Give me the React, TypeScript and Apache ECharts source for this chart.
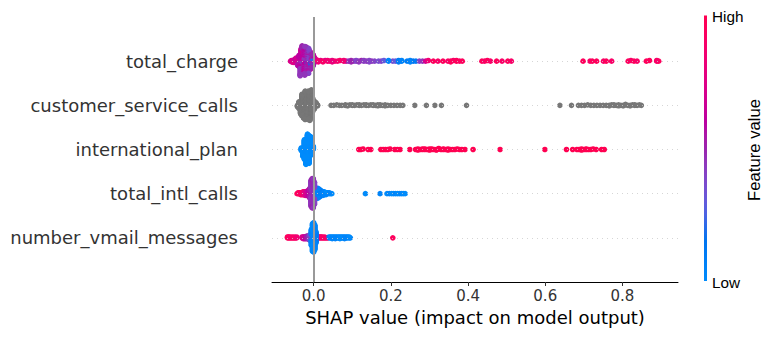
import React, { useEffect, useRef } from "react";
import * as echarts from "echarts";

// features, bottom row first (row index = position on the y axis)
const features = [
  "number_vmail_messages",
  "total_intl_calls",
  "international_plan",
  "customer_service_calls",
  "total_charge",
];
const xTicks = [0, 0.2, 0.4, 0.6, 0.8];

// [SHAP value, feature value (0 = low, 1 = high), number of samples]
const totalCharge: number[][] = [
  [-0.060, 0.75, 1], [-0.057, 0.7, 2], [-0.053, 0.75, 3], [-0.049, 0.65, 3],
  [-0.045, 0.7, 4], [-0.041, 0.55, 6], [-0.038, 0.6, 8],
  [-0.035, 0.45, 14], [-0.033, 0.65, 10], [-0.030, 0.5, 14], [-0.028, 0.4, 10],
  [-0.025, 0.6, 12], [-0.023, 0.45, 16], [-0.020, 0.1, 4], [-0.019, 0.5, 14],
  [-0.016, 0.55, 12], [-0.013, 0.4, 14], [-0.011, 0.15, 6], [-0.009, 0.65, 8],
  [-0.006, 0.5, 10], [-0.003, 0.2, 5], [-0.001, 0.6, 6],
  [0.002, 0.7, 3], [0.005, 0.45, 2], [0.008, 0.85, 2],
  [0.012, 0.85, 2], [0.018, 0.8, 1], [0.024, 0.9, 2], [0.030, 0.75, 1], [0.036, 0.85, 2],
  [0.042, 0.9, 1], [0.048, 0.8, 2], [0.055, 0.9, 1], [0.062, 0.85, 1], [0.068, 0.9, 1],
  [0.078, 0.85, 2], [0.084, 0.7, 1], [0.090, 0.45, 1], [0.097, 0.5, 2], [0.104, 0.45, 1],
  [0.110, 0.4, 2], [0.117, 0.45, 2], [0.124, 0.5, 1], [0.130, 0.42, 2], [0.137, 0.45, 1],
  [0.144, 0.4, 2], [0.151, 0.45, 1], [0.158, 0.4, 1],
  [0.168, 0.35, 1], [0.175, 0.4, 1], [0.182, 0.3, 1], [0.194, 0.05, 2], [0.205, 0.35, 1],
  [0.212, 0.3, 1], [0.220, 0.1, 2], [0.228, 0.05, 2],
  [0.242, 0.1, 1], [0.250, 0.05, 2], [0.258, 0.15, 1], [0.265, 0.1, 1], [0.274, 0.4, 1],
  [0.282, 0.45, 1], [0.290, 0.7, 1], [0.297, 0.85, 1],
  [0.310, 0.95, 1], [0.322, 0.9, 1], [0.335, 0.95, 1], [0.348, 0.9, 1], [0.355, 0.95, 2],
  [0.362, 0.9, 1], [0.370, 0.95, 2], [0.378, 0.9, 1], [0.385, 0.95, 1],
  [0.436, 0.95, 1], [0.443, 0.9, 1], [0.450, 0.95, 1], [0.458, 0.9, 1], [0.474, 0.95, 1],
  [0.488, 0.9, 1], [0.503, 0.95, 1], [0.512, 0.9, 1],
  [0.698, 0.95, 1], [0.716, 0.9, 1], [0.722, 0.95, 1], [0.733, 0.95, 1], [0.751, 0.9, 1],
  [0.758, 0.95, 1], [0.772, 0.9, 1],
  [0.815, 0.95, 1], [0.822, 0.9, 1], [0.830, 0.95, 1], [0.838, 0.9, 1], [0.862, 0.95, 1],
  [0.870, 0.95, 1], [0.889, 0.9, 2], [0.894, 0.95, 1],
];

// [SHAP value, number of samples] (feature value missing -> grey)
const customerServiceCalls: number[][] = [
  [-0.042, 4], [-0.038, 12], [-0.034, 20], [-0.030, 30], [-0.026, 30], [-0.022, 35],
  [-0.018, 30], [-0.014, 35], [-0.010, 30], [-0.006, 30], [-0.002, 10], [0.002, 12],
  [0.006, 6], [0.010, 3],
  [0.045, 1], [0.052, 1], [0.060, 1], [0.067, 1], [0.073, 1],
  [0.082, 2], [0.088, 2], [0.094, 1], [0.100, 2], [0.106, 1], [0.112, 1], [0.118, 2],
  [0.124, 1], [0.130, 1], [0.136, 2], [0.142, 1], [0.148, 1], [0.154, 2], [0.160, 1],
  [0.166, 2], [0.172, 2], [0.178, 1], [0.185, 2], [0.192, 1], [0.200, 1], [0.208, 1],
  [0.216, 1], [0.224, 1], [0.231, 1],
  [0.262, 1], [0.292, 1], [0.314, 1], [0.331, 1], [0.396, 1],
  [0.638, 1], [0.668, 1], [0.686, 1], [0.694, 1], [0.702, 1], [0.710, 1], [0.718, 1],
  [0.726, 1], [0.734, 1], [0.742, 1], [0.750, 1], [0.758, 1], [0.766, 2], [0.772, 1],
  [0.778, 2], [0.784, 1], [0.790, 2], [0.796, 1], [0.802, 2], [0.808, 2], [0.814, 1],
  [0.820, 2], [0.826, 1], [0.832, 2], [0.838, 1], [0.844, 1], [0.849, 1],
];

const internationalPlan: number[][] = [
  [-0.032, 0, 6], [-0.028, 0, 14], [-0.024, 0, 25], [-0.020, 0, 30], [-0.016, 0, 30],
  [-0.012, 0, 30], [-0.008, 0, 25], [-0.004, 0, 15], [-0.001, 0, 6],
  [0.117, 1, 1], [0.122, 1, 1], [0.128, 1, 1], [0.141, 1, 1], [0.148, 1, 1],
  [0.174, 1, 1], [0.180, 1, 1], [0.186, 1, 1], [0.192, 1, 1], [0.198, 1, 1], [0.210, 1, 1],
  [0.217, 1, 1], [0.224, 1, 1], [0.249, 1, 1],
  [0.264, 1, 1], [0.270, 1, 2], [0.276, 1, 1], [0.282, 1, 2], [0.288, 1, 2], [0.294, 1, 1],
  [0.300, 1, 2], [0.306, 1, 2], [0.312, 1, 1], [0.318, 1, 2], [0.324, 1, 2], [0.330, 1, 1],
  [0.336, 1, 2], [0.342, 1, 1], [0.348, 1, 2], [0.354, 1, 1], [0.360, 1, 1], [0.366, 1, 1],
  [0.372, 1, 1], [0.378, 1, 1], [0.384, 1, 1],
  [0.392, 1, 1], [0.413, 1, 1], [0.483, 1, 1], [0.599, 1, 1],
  [0.655, 1, 1], [0.671, 1, 1], [0.682, 1, 1], [0.688, 1, 1], [0.694, 1, 2], [0.700, 1, 1],
  [0.706, 1, 2], [0.712, 1, 1], [0.718, 1, 1], [0.724, 1, 1], [0.732, 1, 1], [0.746, 1, 1],
  [0.753, 1, 1],
];

const totalIntlCalls: number[][] = [
  [-0.043, 0.95, 1], [-0.040, 0.95, 2], [-0.037, 0.9, 2], [-0.034, 0.95, 3], [-0.031, 0.85, 3],
  [-0.028, 0.9, 4], [-0.025, 0.8, 4], [-0.022, 0.75, 5], [-0.019, 0.7, 5], [-0.016, 0.65, 6],
  [-0.013, 0.6, 8], [-0.010, 0.55, 12],
  [-0.007, 0.45, 30], [-0.004, 0.5, 34], [-0.001, 0.45, 34], [0.002, 0.4, 26],
  [0.005, 0.1, 10], [0.008, 0.05, 12], [0.011, 0.05, 12], [0.014, 0.1, 10], [0.017, 0.05, 8],
  [0.020, 0.05, 6], [0.024, 0.05, 5], [0.028, 0.0, 4], [0.032, 0.05, 3], [0.036, 0.0, 2],
  [0.040, 0.05, 2], [0.044, 0.0, 1], [0.047, 0.0, 1],
  [0.134, 0.0, 1], [0.172, 0.05, 1], [0.190, 0.0, 1], [0.196, 0.05, 1], [0.202, 0.0, 1],
  [0.207, 0.0, 1], [0.212, 0.05, 1], [0.217, 0.0, 1], [0.222, 0.0, 1], [0.227, 0.05, 1],
  [0.232, 0.0, 1], [0.237, 0.0, 1],
];

const numberVmailMessages: number[][] = [
  [-0.068, 0.95, 2], [-0.065, 0.95, 2], [-0.062, 0.9, 2], [-0.059, 0.95, 1], [-0.056, 0.9, 2],
  [-0.053, 0.95, 1], [-0.050, 0.9, 2], [-0.047, 0.95, 1], [-0.044, 0.85, 2],
  [-0.030, 0.75, 2], [-0.027, 0.7, 3], [-0.024, 0.65, 3], [-0.021, 0.6, 3], [-0.018, 0.55, 4],
  [-0.015, 0.5, 4], [-0.012, 0.45, 5], [-0.009, 0.35, 8],
  [-0.006, 0.05, 20], [-0.003, 0.0, 34], [0.000, 0.02, 36], [0.003, 0.05, 30], [0.006, 0.1, 14],
  [0.010, 0.9, 2], [0.013, 0.95, 2], [0.016, 0.9, 2], [0.019, 0.85, 2], [0.022, 0.9, 2],
  [0.025, 0.95, 1], [0.028, 0.9, 2], [0.031, 0.85, 1], [0.034, 0.9, 1], [0.037, 0.95, 1],
  [0.040, 0.05, 2], [0.044, 0.0, 2], [0.048, 0.05, 3], [0.052, 0.0, 2], [0.056, 0.05, 3],
  [0.060, 0.0, 2], [0.064, 0.05, 2], [0.068, 0.0, 3], [0.072, 0.05, 2], [0.076, 0.0, 2],
  [0.080, 0.05, 3], [0.084, 0.0, 2], [0.088, 0.05, 2], [0.092, 0.0, 2], [0.095, 0.05, 1],
  [0.205, 0.95, 1],
];

const FONT = "'DejaVu Sans', sans-serif";
const CB_FONT = "'Liberation Sans', Arial, sans-serif";

// SHAP red_blue colormap (LCH interpolation)
function shapColor(t: number): string {
  const L = t < 0.5 ? 54 + (40 - 54) * (t / 0.5) : 40 + (54 - 40) * ((t - 0.5) / 0.5);
  const C = 70 + (90 - 70) * t;
  const H = 4.6588 + (0.35470565 + 2 * Math.PI - 4.6588) * t;
  const a = C * Math.cos(H);
  const b = C * Math.sin(H);
  const fy = (L + 16) / 116;
  const fx = fy + a / 500;
  const fz = fy - b / 200;
  const finv = (v: number) => (v * v * v > 0.008856 ? v * v * v : (v - 16 / 116) / 7.787);
  const X = 0.95047 * finv(fx);
  const Y = finv(fy);
  const Z = 1.08883 * finv(fz);
  const lin = [
    3.2404542 * X - 1.5371385 * Y - 0.4985314 * Z,
    -0.969266 * X + 1.8760108 * Y + 0.041556 * Z,
    0.0556434 * X - 0.2040259 * Y + 1.0572252 * Z,
  ];
  const rgb = lin.map((v) => {
    const g = v > 0.0031308 ? 1.055 * Math.pow(v, 1 / 2.4) - 0.055 : 12.92 * v;
    return Math.round(Math.min(1, Math.max(0, g)) * 255);
  });
  return `rgb(${rgb[0]},${rgb[1]},${rgb[2]})`;
}
const cmap = Array.from({ length: 21 }, (_, i) => shapColor(i / 20));

type Pt = { x: number; fv: number };

// round-robin expansion of grouped samples
function expand(groups: number[][], hasFv: boolean): Pt[] {
  const rem = groups.map((g) => (hasFv ? g[2] : g[1]));
  const pts: Pt[] = [];
  let more = true;
  while (more) {
    more = false;
    groups.forEach((g, i) => {
      if (rem[i] > 0) {
        pts.push({ x: g[0], fv: hasFv ? g[1] : NaN });
        rem[i]--;
        more = true;
      }
    });
  }
  return pts;
}

// SHAP beeswarm layout
function swarm(pts: Pt[], row: number, rowHeight = 0.4): number[][] {
  const xs = pts.map((p) => p.x);
  const mn = Math.min(...xs);
  const mx = Math.max(...xs);
  const quant = xs.map((x) => Math.round((100 * (x - mn)) / (mx - mn + 1e-8)));
  const inds = xs.map((_, i) => i).sort((a, b) => quant[a] - quant[b]);
  const ys = new Array(xs.length).fill(0);
  let layer = 0;
  let last = -1;
  for (const ind of inds) {
    if (quant[ind] !== last) layer = 0;
    ys[ind] = Math.ceil(layer / 2) * ((layer % 2) * 2 - 1);
    layer++;
    last = quant[ind];
  }
  const m = Math.max(...ys.map((y) => y + 1));
  return pts.map((p, i) => [p.x, row + ys[i] * 0.9 * (rowHeight / m), p.fv]);
}

export default function App() {
  const ref = useRef<HTMLDivElement>(null);
  useEffect(() => {
    if (!ref.current) return;
    const chart = echarts.init(ref.current, null, { renderer: "svg" });
    const rows: { data: number[][]; fv: boolean }[] = [
      { data: numberVmailMessages, fv: true },
      { data: totalIntlCalls, fv: true },
      { data: internationalPlan, fv: true },
      { data: customerServiceCalls, fv: false },
      { data: totalCharge, fv: true },
    ];
    const scatterSeries = rows.map((r, i) => {
      const pts = swarm(expand(r.data, r.fv), i);
      return {
        type: "scatter",
        name: features[i],
        data: pts,
        symbol: "circle",
        symbolSize: 5.6,
        z: 3,
        silent: true,
        itemStyle: r.fv ? { opacity: 1 } : { color: "#777777", opacity: 1 },
      };
    });
    const option: any = {
      animation: false,
      grid: { left: 272, right: 96, top: 17, bottom: 58, containLabel: false },
      xAxis: {
        type: "value",
        min: -0.108,
        max: 0.944,
        name: "SHAP value (impact on model output)",
        nameLocation: "middle",
        nameGap: 26,
        nameTextStyle: { fontFamily: FONT, fontSize: 18, color: "#000" },
        axisLine: { show: true, onZero: false, lineStyle: { color: "#000", width: 1 } },
        axisTick: { show: true, customValues: xTicks, length: 4, lineStyle: { color: "#333" } },
        axisLabel: {
          customValues: xTicks,
          formatter: (v: number) => v.toFixed(1),
          fontFamily: FONT,
          fontSize: 15,
          color: "#333333",
          margin: 6,
        },
        splitLine: { show: false },
      },
      yAxis: {
        type: "value",
        min: -1,
        max: 5,
        interval: 1,
        axisLine: { show: false, onZero: false },
        axisTick: { show: false },
        splitLine: { show: false },
        axisLabel: {
          formatter: (v: number) => (v >= 0 && v < features.length ? features[v] : ""),
          fontFamily: FONT,
          fontSize: 18,
          color: "#333333",
          margin: 34,
        },
      },
      visualMap: {
        type: "continuous",
        show: false,
        min: 0,
        max: 1,
        dimension: 2,
        seriesIndex: [1, 2, 3, 5],
        inRange: { color: cmap },
      },
      series: [
        {
          type: "scatter",
          data: [],
          z: 1,
          silent: true,
          markLine: {
            silent: true,
            symbol: ["none", "none"],
            label: { show: false },
            data: [
              ...features.map((_, i) => ({
                yAxis: i,
                lineStyle: { color: "#cccccc", width: 0.8, type: [1, 4] },
              })),
              { xAxis: 0, lineStyle: { color: "#999999", width: 2, type: "solid" } },
            ],
          },
        },
        ...scatterSeries,
      ],
      graphic: [
        {
          type: "rect",
          shape: { x: 704, y: 15.5, width: 3, height: 265.5 },
          style: {
            fill: {
              type: "linear",
              x: 0,
              y: 1,
              x2: 0,
              y2: 0,
              colorStops: cmap.map((c, i) => ({ offset: i / 20, color: c })),
            },
          },
          silent: true,
        },
        {
          type: "text",
          x: 712,
          y: 16,
          style: {
            text: "High",
            fontFamily: CB_FONT,
            fontSize: 15.3,
            fill: "#000",
            verticalAlign: "middle",
            align: "left",
          },
        },
        {
          type: "text",
          x: 712,
          y: 282,
          style: {
            text: "Low",
            fontFamily: CB_FONT,
            fontSize: 15.3,
            fill: "#000",
            verticalAlign: "middle",
            align: "left",
          },
        },
        {
          type: "text",
          x: 754,
          y: 150,
          rotation: Math.PI / 2,
          style: {
            text: "Feature value",
            fontFamily: CB_FONT,
            fontSize: 16.7,
            fill: "#000",
            verticalAlign: "middle",
            align: "center",
          },
        },
      ],
    };
    chart.setOption(option);
    return () => chart.dispose();
  }, []);
  return (
    <div
      ref={ref}
      style={{ position: "fixed", left: 0, top: 0, width: 774, height: 340, background: "#fff" }}
    />
  );
}
